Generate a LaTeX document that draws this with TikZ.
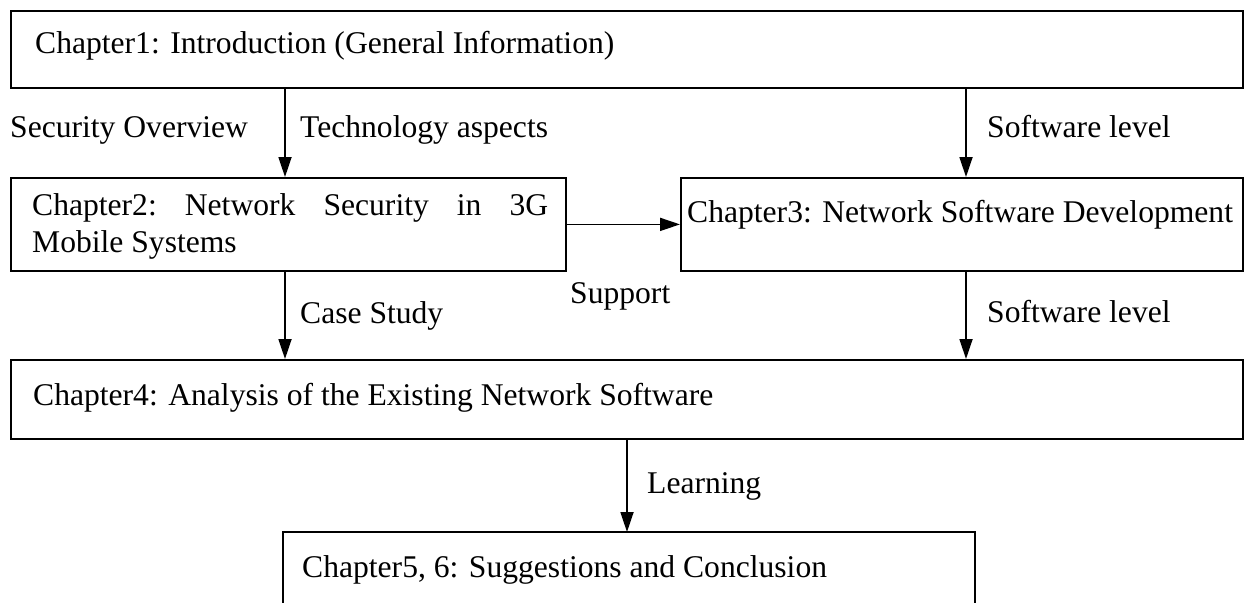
\documentclass[tikz,border=0pt]{standalone}
\usepackage{fontspec}
\setmainfont{Liberation Serif}
\usetikzlibrary{arrows.meta}
\begin{document}
\begin{tikzpicture}[x=1pt,y=-1pt]
\tikzset{
  box/.style={draw, line width=1.8pt, rectangle, inner sep=0pt, anchor=north west},
  txt/.style={font=\fontsize{31.6}{37}\selectfont, inner sep=0pt, anchor=base west},
  arr/.style={line width=1.8pt, -{Triangle[length=20pt,width=13pt]}},
  edge/.style={line width=1.8pt}
}
\useasboundingbox (0,0) rectangle (1246,602);
% boxes
\node[box, minimum width=1232pt, minimum height=77pt] (c1) at (10,10) {};
\node[box, minimum width=555pt, minimum height=93pt] (c2) at (10,177) {};
\node[box, minimum width=562pt, minimum height=93pt] (c3) at (680,177) {};
\node[box, minimum width=1232pt, minimum height=79pt] (c4) at (10,359) {};
\node[box, draw=none, minimum width=690pt, minimum height=80pt] (c5) at (283,532) {};
\draw[edge] (c5.south west) |- (c5.north east) -- (c5.south east);
% box texts
\node[txt] (t1) at (35,53) {Chapter1: Introduction (General Information)};
\node[txt, align=left] (t2) at (32,252) {\makebox[516pt][s]{Chapter2:\ Network\ Security\ in\ 3G}\\Mobile Systems};
\node[txt] (t3) at (687,222) {Chapter3: Network Software Development};
\node[txt] (t4) at (33,405) {Chapter4: Analysis of the Existing Network Software};
\node[txt] (t5) at (302,577) {Chapter5, 6: Suggestions and Conclusion};
% connector positions
\coordinate (xa) at (285,0);
\coordinate (xb) at (966,0);
\coordinate (xc) at (627,0);
% connectors
\draw[arr] (c1.south -| xa) -- (c2.north -| xa);
\draw[arr] (c1.south -| xb) -- (c3.north -| xb);
\draw[arr] (c2.east) -- (c3.west);
\draw[arr] (c2.south -| xa) -- (c4.north -| xa);
\draw[arr] (c3.south -| xb) -- (c4.north -| xb);
\draw[arr] (c4.south -| xc) -- (c5.north -| xc);
% labels
\node[txt] (l1) at (10,137) {Security Overview};
\node[txt] (l2) at (300,137) {Technology aspects};
\node[txt] (l3) at (987,137) {Software level};
\node[txt] (l4) at (570,303) {Support};
\node[txt] (l5) at (300,323) {Case Study};
\node[txt] (l6) at (987,322) {Software level};
\node[txt] (l7) at (647,493) {Learning};
\end{tikzpicture}
\end{document}
